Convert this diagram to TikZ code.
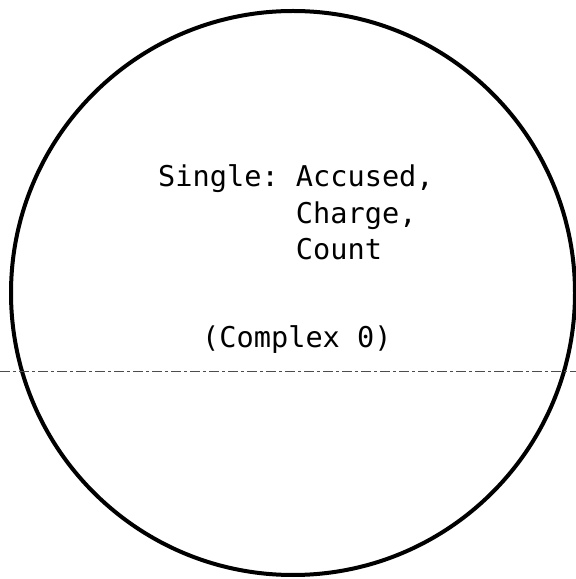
\documentclass[tikz,border=0pt]{standalone}
\usepackage{fontspec}
\setmonofont{DejaVu Sans Mono}
\usepackage{tikz}
\usetikzlibrary{positioning}

\begin{document}
\begin{tikzpicture}[x=1pt, y=1pt]
\useasboundingbox (0,0) rectangle (576,579);

% Circle
\node[circle, draw, line width=4pt, minimum size=564pt, inner sep=0pt] (ring) at (293,286) {};

% Dashed rule
\coordinate (ruleL) at (0,208);
\coordinate (ruleR) at (576,208);
\draw[thin, gray!60!black, dash pattern=on 10pt off 3pt on 3pt off 3pt] (ruleL) -- (ruleR);

% Labels
\node[anchor=base west, align=left, inner sep=0pt, font=\ttfamily\fontsize{28.6}{36.6}\selectfont] (single) at (158,319)
    {Single: Accused,\\\hphantom{Single: }Charge,\\\hphantom{Single: }Count};
\node[anchor=base west, inner sep=0pt, font=\ttfamily\fontsize{28.6}{36.6}\selectfont] (complex) at (202,231) {(Complex 0)};

\end{tikzpicture}
\end{document}
